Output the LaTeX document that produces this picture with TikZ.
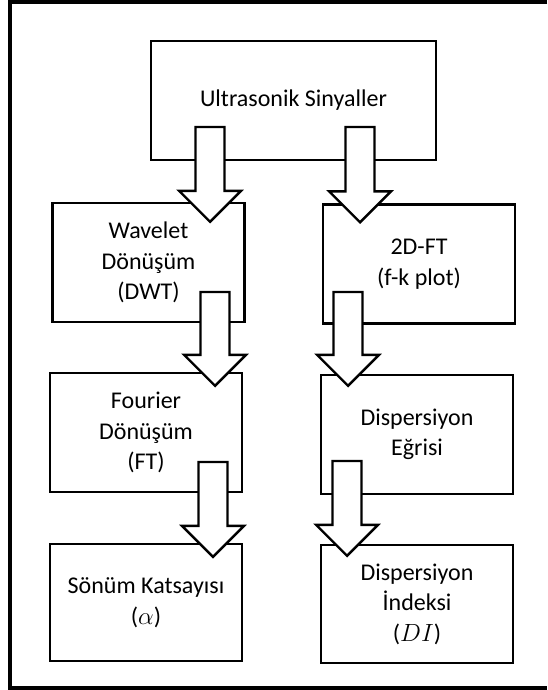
\documentclass[tikz,border=0pt]{standalone}
\usepackage{fontspec}
\setmainfont{Carlito}
\usetikzlibrary{calc}
\begin{document}
\begin{tikzpicture}[x=1pt,y=-1pt,
  box/.style={draw, line width=2.4pt, minimum width=192pt, minimum height=119pt,
    align=center, inner sep=0pt, font=\fontsize{24}{30.5}\selectfont},
  blockarrow/.style={draw, fill=white, line width=2.4pt, line join=miter,
    to path={let \p1=(\tikztostart), \p2=(\tikztotarget) in
      (\x1-14.5pt,\y1) -- (\x1+14.5pt,\y1) -- (\x1+14.5pt,\y2+31pt) -- (\x1+31pt,\y2+31pt)
      -- (\x1,\y2) -- (\x1-31pt,\y2+31pt) -- (\x1-14.5pt,\y2+31pt) -- cycle}},
  frame/.style={line width=4pt}]
\useasboundingbox (0,0) rectangle (547,690);
\draw[frame] (547,2) -- (10,2) -- (10,687.5) -- (547,687.5);

\node[box, minimum width=285pt] (top) at (293.5,100.5) {Ultrasonik Sinyaller};
\node[box] (wav) at (148.5,262.5) {Wavelet\\Dönüşüm\\(DWT)};
\node[box] (ft2d) at (419,264) {2D-FT\\(f-k plot)};
\node[box] (four) at (146,432.5) {Fourier\\Dönüşüm\\(FT)};
\node[box] (disp) at (417,434.5) {Dispersiyon\\Eğrisi};
\node[box, minimum height=117pt] (son) at (146,602.5) {Sönüm Katsayısı\\($\alpha$)};
\node[box, minimum height=118pt] (di) at (417,604) {Dispersiyon\\İndeksi\\($DI$)};

\draw[blockarrow] ([shift={(-83.5,26.5)}]top.center) to ([yshift=-20pt]wav.north);
\draw[blockarrow] ([shift={(66.5,26.5)}]top.center) to ([yshift=-19pt]ft2d.north);
\draw[blockarrow] ([shift={(66.5,29.5)}]wav.center) to ([yshift=-14pt]four.north);
\draw[blockarrow] ([shift={(-71,28)}]ft2d.center) to ([yshift=-12pt]disp.north);
\draw[blockarrow] ([shift={(67,29.5)}]four.center) to ([yshift=-14pt]son.north);
\draw[blockarrow] ([shift={(-70,26.5)}]disp.center) to ([yshift=-12pt]di.north);
\end{tikzpicture}
\end{document}
